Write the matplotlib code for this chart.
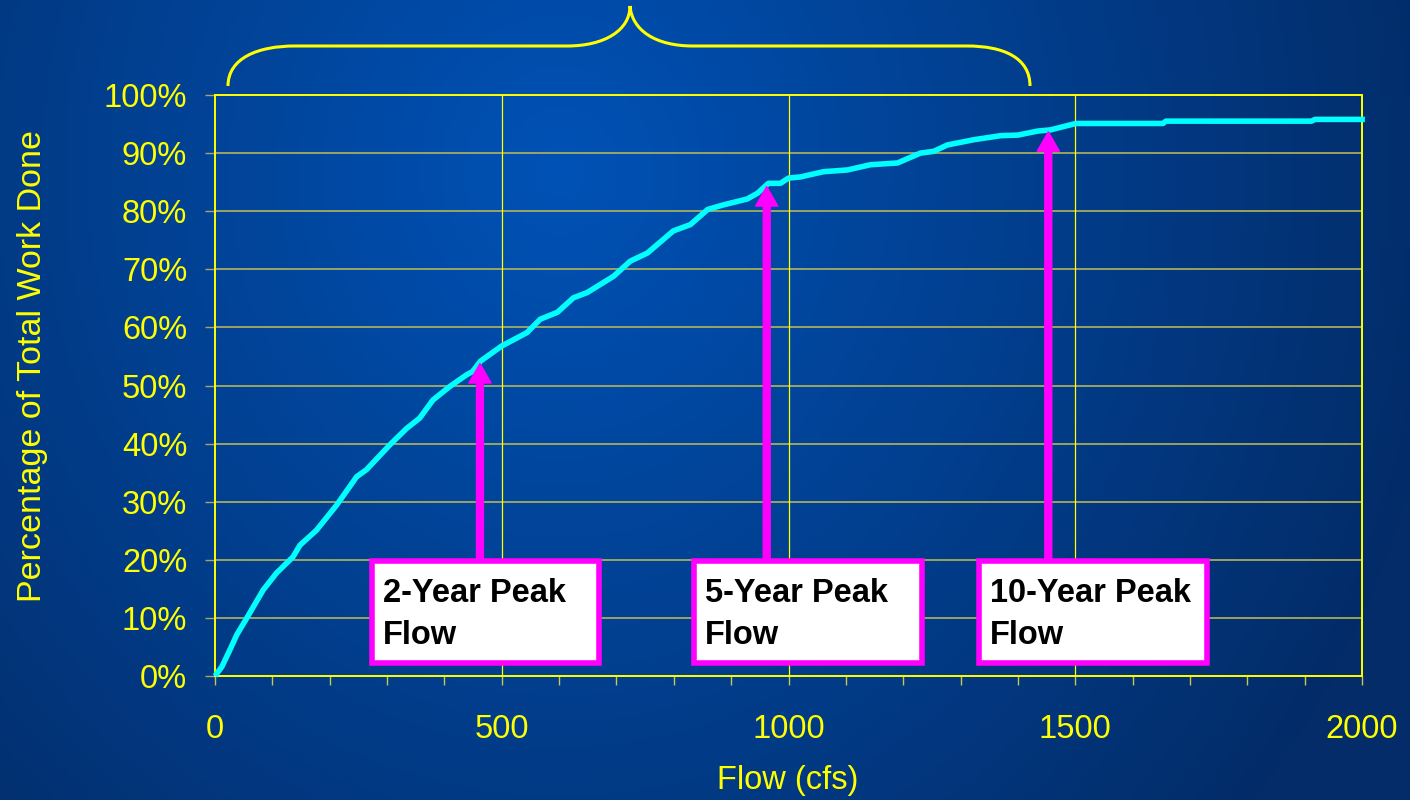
import numpy as np
import matplotlib
matplotlib.use('Agg')
import matplotlib.pyplot as plt
from matplotlib.patches import Rectangle, PathPatch
from matplotlib.path import Path
from matplotlib.ticker import MultipleLocator

# cumulative work curve
flow = [0, 12, 26, 38, 55, 84, 107, 136, 148, 177, 212, 247, 264, 305, 334, 357, 380,
        409, 438, 449, 463, 500, 544, 567, 597, 625, 649, 695, 724, 754, 799, 829, 859,
        887, 928, 946, 965, 986, 1000, 1021, 1061, 1103, 1143, 1190, 1230, 1253, 1277,
        1323, 1370, 1400, 1435, 1457, 1501, 1653, 1658, 1912, 1918, 2005]
pct_done = [0, 1.6, 4.5, 7.1, 9.9, 14.8, 17.7, 20.5, 22.5, 25.1, 29.4, 34.3, 35.5, 39.8,
            42.6, 44.4, 47.5, 49.8, 51.8, 52.4, 54.2, 56.8, 59.1, 61.4, 62.6, 65.1, 66.0,
            68.8, 71.4, 72.8, 76.6, 77.7, 80.3, 81.1, 82.1, 83.1, 84.8, 84.8, 85.7, 85.9,
            86.8, 87.1, 88.0, 88.3, 90.0, 90.3, 91.4, 92.3, 93.0, 93.1, 93.8, 94.0, 95.1,
            95.1, 95.5, 95.5, 95.8, 95.8]

peak_labels = ['2-Year Peak\nFlow', '5-Year Peak\nFlow', '10-Year Peak\nFlow']
peak_flows = [462, 962, 1453]

x_ticks = [0, 500, 1000, 1500, 2000]
y_ticks = list(range(0, 101, 10))

# layout (box left edges in flow units)
box_left = [274, 836, 1333]
box_w = 396
box_bottom, box_top = 2.2, 19.8

W, H = 1410, 800
YEL = '#FFFF00'
plt.rcParams['font.family'] = ['Liberation Sans', 'DejaVu Sans']

fig = plt.figure(figsize=(W / 100, H / 100), dpi=100)

# background radial gradient
bg = fig.add_axes([0, 0, 1, 1], zorder=-5)
gx, gy = np.meshgrid(np.linspace(0, W, 300), np.linspace(0, H, 200))
d = np.sqrt(((gx - 560) / 900) ** 2 + ((gy - 170) / 1000) ** 2)
d = np.clip(d, 0, 1)[..., None]
c0 = np.array([0, 82, 182]) / 255
c1 = np.array([3, 44, 104]) / 255
bg.imshow(c0 * (1 - d) + c1 * d, extent=[0, W, H, 0], aspect='auto')
bg.axis('off')

ax = fig.add_axes([215 / W, 1 - 676 / H, (1362 - 215) / W, (676 - 95) / H])
ax.set_facecolor('none')
ax.set_xlim(0, 2000)
ax.set_ylim(0, 100)

for v in y_ticks[1:]:
    ax.axhline(v, color='#B4B45A', lw=1.2, zorder=1)
for v in x_ticks[1:-1]:
    ax.axvline(v, color=YEL, lw=0.9, zorder=1)

ax.plot(flow, pct_done, color='#00FFFF', lw=4, zorder=4, clip_on=False,
        solid_capstyle='butt', solid_joinstyle='round')

for s in ax.spines.values():
    s.set_color(YEL)
    s.set_linewidth(1.4)

ax.set_xticks(x_ticks)
ax.xaxis.set_minor_locator(MultipleLocator(100))
ax.set_yticks(y_ticks)
ax.set_yticklabels([f'{v}%' for v in y_ticks])
ax.tick_params(axis='x', which='both', direction='out', length=6.5, width=1,
               color='#C8C850', labelcolor=YEL, labelsize=23.5, pad=21)
ax.tick_params(axis='y', direction='out', length=7, width=1, color='#A8A860',
               labelcolor=YEL, labelsize=23.5, pad=13)

fig.text(33 / W, 1 - 366 / H, 'Percentage of Total Work Done', rotation=90,
         color=YEL, fontsize=24.5, ha='center', va='center')
fig.text(788 / W, 1 - 780 / H, 'Flow (cfs)', color=YEL, fontsize=23.5,
         ha='center', va='center')

# arrows and labels for peak flows
for lbl, pf, bl in zip(peak_labels, peak_flows, box_left):
    tip = np.interp(pf, flow, pct_done) - 0.3
    ax.annotate('', xy=(pf, tip), xytext=(pf, box_top),
                arrowprops=dict(color='#FF00FF', width=5, headwidth=16,
                                headlength=14, shrink=0), zorder=5)
    ax.add_patch(Rectangle((bl, box_bottom), box_w, box_top - box_bottom,
                           facecolor='white', edgecolor='#FF00FF', lw=4, zorder=6))
    ax.text(bl + 19, box_top - 2.9, lbl, fontsize=23.5, fontweight='bold',
            color='black', ha='left', va='top', linespacing=1.45, zorder=7)

# brace across the top (pixel coords, y down)
brace = [(228, 86), (228, 58), (258, 46), (295, 46), (567, 46),
         (605, 46), (630, 30), (630, 6),
         (632, 30), (655, 46), (693, 46), (967, 46),
         (1004, 46), (1030, 58), (1030, 86)]
codes = [Path.MOVETO, Path.CURVE4, Path.CURVE4, Path.CURVE4, Path.LINETO,
         Path.CURVE4, Path.CURVE4, Path.CURVE4,
         Path.CURVE4, Path.CURVE4, Path.CURVE4, Path.LINETO,
         Path.CURVE4, Path.CURVE4, Path.CURVE4]
verts = [(x / W, 1 - y / H) for x, y in brace]
fig.add_artist(PathPatch(Path(verts, codes), transform=fig.transFigure,
                         facecolor='none', edgecolor=YEL, lw=2.2))

fig.savefig('out.png', dpi=100)
